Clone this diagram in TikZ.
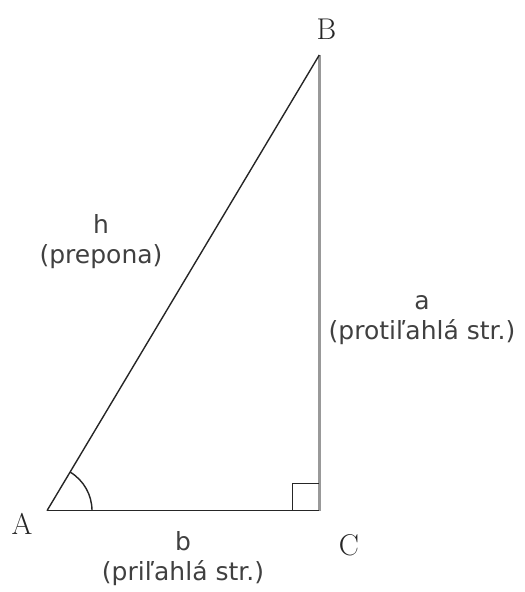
\documentclass[tikz,border=0pt]{standalone}
\usepackage{fontspec}
\newfontfamily\sidefont{DejaVu Sans}
\tikzset{
  side/.style={line width=1.4pt, draw=black!85},
  opposite/.style={line width=3pt, draw=black!40},
  vertex/.style={font=\fontsize{30}{36}\selectfont, inner sep=0pt, text=black!85},
  sidelabel/.style={font=\sidefont\fontsize{25}{30}\selectfont, align=center, inner sep=0pt, text=black!75}
}
\begin{document}
\begin{tikzpicture}[x=1pt,y=1pt]
\useasboundingbox (0,0) rectangle (525,592);
\coordinate (A) at (47,81.3);
\coordinate (C) at (319.3,81.3);
\coordinate (B) at (319.3,537);
%%%%
\draw[opposite] (C) -- (B);
\draw[side] (A) -- (C);
\draw[side] (A) -- (B);
\draw[side] (A) ++(45,0) arc[start angle=0, end angle=59.2, radius=45];
\draw[side] (C) ++(-27,0) -- ++(0,27) -- ++(27,0);
%%%%
\node[vertex] (labA) at (22,68) {A};
\node[vertex] (labB) at (326.5,562.5) {B};
\node[vertex] (labC) at (349,47) {C};
\node[sidelabel] (labb) at (183,33) {b\\(priľahlá str.)};
\node[sidelabel] (laba) at (422,272) {a\\(protiľahlá str.)};
\node[sidelabel] (labh) at (101,350) {h\\(prepona)};
\end{tikzpicture}
\end{document}
